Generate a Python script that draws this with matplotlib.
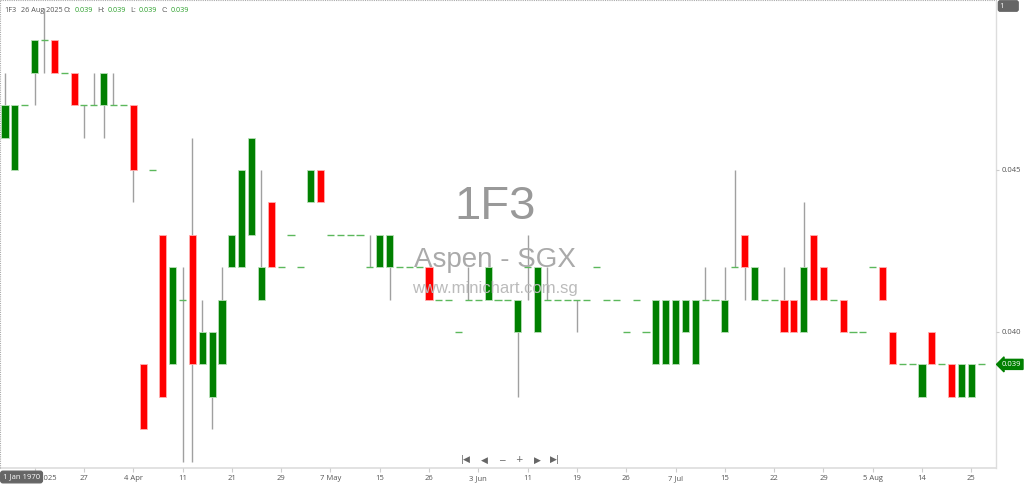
import matplotlib
matplotlib.use("Agg")
import matplotlib.pyplot as plt

# daily OHLC for 1F3 (Aspen, SGX), one entry per trading bar
opens = [0.046, 0.045, 0.047, 0.048, 0.049, 0.049, 0.048, 0.048, 0.047, 0.047,
         0.047, 0.047, 0.047, 0.047, 0.039, 0.045, 0.043, 0.039, 0.041, 0.043,
         0.039, 0.038, 0.039, 0.042, 0.042, 0.043, 0.041, 0.044, 0.042, 0.043,
         0.042, 0.044, 0.045, 0.043, 0.043, 0.043, 0.043, 0.042, 0.042, 0.042,
         0.042, 0.042, 0.042, 0.042, 0.041, 0.041, 0.040, 0.041, 0.041, 0.041,
         0.041, 0.041, 0.040, 0.042, 0.040, 0.041, 0.041, 0.041, 0.041, 0.041,
         0.042, 0.041, 0.041, 0.040, 0.041, 0.040, 0.039, 0.039, 0.039, 0.040,
         0.039, 0.041, 0.041, 0.040, 0.042, 0.043, 0.041, 0.041, 0.041, 0.041,
         0.041, 0.040, 0.043, 0.042, 0.041, 0.041, 0.040, 0.040, 0.042, 0.042,
         0.040, 0.039, 0.039, 0.038, 0.040, 0.039, 0.039, 0.038, 0.038, 0.039]
highs = [0.048, 0.047, 0.047, 0.049, 0.050, 0.049, 0.048, 0.048, 0.047, 0.048,
         0.048, 0.048, 0.047, 0.047, 0.039, 0.045, 0.043, 0.042, 0.042, 0.046,
         0.041, 0.040, 0.042, 0.043, 0.045, 0.046, 0.045, 0.044, 0.042, 0.043,
         0.042, 0.045, 0.045, 0.043, 0.043, 0.043, 0.043, 0.043, 0.043, 0.043,
         0.042, 0.042, 0.042, 0.042, 0.041, 0.041, 0.040, 0.042, 0.041, 0.042,
         0.041, 0.041, 0.041, 0.043, 0.042, 0.042, 0.041, 0.041, 0.041, 0.041,
         0.042, 0.041, 0.041, 0.040, 0.041, 0.040, 0.041, 0.041, 0.041, 0.041,
         0.041, 0.042, 0.041, 0.042, 0.045, 0.043, 0.042, 0.041, 0.041, 0.042,
         0.041, 0.044, 0.043, 0.042, 0.041, 0.041, 0.040, 0.040, 0.042, 0.042,
         0.040, 0.039, 0.039, 0.039, 0.040, 0.039, 0.039, 0.039, 0.039, 0.039]
lows = [0.046, 0.045, 0.047, 0.047, 0.048, 0.048, 0.048, 0.047, 0.046, 0.047,
        0.046, 0.047, 0.047, 0.044, 0.037, 0.045, 0.038, 0.039, 0.036, 0.036,
        0.039, 0.037, 0.039, 0.042, 0.042, 0.043, 0.041, 0.042, 0.042, 0.043,
        0.042, 0.044, 0.044, 0.043, 0.043, 0.043, 0.043, 0.042, 0.042, 0.041,
        0.042, 0.042, 0.042, 0.041, 0.041, 0.041, 0.040, 0.041, 0.041, 0.041,
        0.041, 0.041, 0.038, 0.041, 0.040, 0.041, 0.041, 0.041, 0.040, 0.041,
        0.042, 0.041, 0.041, 0.040, 0.041, 0.040, 0.039, 0.039, 0.039, 0.040,
        0.039, 0.041, 0.041, 0.040, 0.042, 0.041, 0.041, 0.041, 0.041, 0.040,
        0.040, 0.040, 0.041, 0.041, 0.041, 0.040, 0.040, 0.040, 0.042, 0.041,
        0.039, 0.039, 0.039, 0.038, 0.039, 0.039, 0.038, 0.038, 0.038, 0.039]
closes = [0.047, 0.047, 0.047, 0.049, 0.049, 0.048, 0.048, 0.047, 0.047, 0.047,
          0.048, 0.047, 0.047, 0.045, 0.037, 0.045, 0.038, 0.042, 0.041, 0.039,
          0.040, 0.040, 0.041, 0.043, 0.045, 0.046, 0.042, 0.042, 0.042, 0.043,
          0.042, 0.045, 0.044, 0.043, 0.043, 0.043, 0.043, 0.042, 0.043, 0.043,
          0.042, 0.042, 0.042, 0.041, 0.041, 0.041, 0.040, 0.041, 0.041, 0.042,
          0.041, 0.041, 0.041, 0.042, 0.042, 0.041, 0.041, 0.041, 0.041, 0.041,
          0.042, 0.041, 0.041, 0.040, 0.041, 0.040, 0.041, 0.041, 0.041, 0.041,
          0.041, 0.041, 0.041, 0.041, 0.042, 0.042, 0.042, 0.041, 0.041, 0.040,
          0.040, 0.042, 0.041, 0.041, 0.041, 0.040, 0.040, 0.040, 0.042, 0.041,
          0.039, 0.039, 0.039, 0.039, 0.039, 0.039, 0.038, 0.039, 0.039, 0.039]

tick_pos = [3, 8, 13, 18, 23, 28, 33, 38, 43, 48, 53, 58, 63, 68, 73, 78, 83, 88, 93, 98]
tick_labels = ["21 Mar 2025", "27", "4 Apr", "11", "21", "29", "7 May", "15", "26",
               "3 Jun", "11", "19", "26", "7 Jul", "15", "22", "29", "5 Aug", "14", "25"]
price_ticks = [0.040, 0.045]
last_price = 0.039

GREEN = "#008000"
RED = "#ff0000"
DOJI = "#5cb85c"
WICK = "#a0a0a0"
TXT = "#555555"

plt.rcParams["font.family"] = ["Open Sans", "DejaVu Sans"]

fig = plt.figure(figsize=(10.24, 4.84), dpi=100)
ax = fig.add_axes([0, 16 / 484, 996 / 1024, 468 / 484])

w = 0.72
for i in range(len(opens)):
    o, h, l, c = opens[i], highs[i], lows[i], closes[i]
    if h > l:
        ax.vlines(i, l, h, color=WICK, lw=1, zorder=1)
    if o == c:
        ax.hlines(o, i - w / 2, i + w / 2, color=DOJI, lw=1, zorder=2)
    else:
        col = GREEN if c > o else RED
        edge = "#b8e0b8" if c > o else "#ffb0b0"
        ax.bar(i, abs(c - o), bottom=min(o, c), width=w, color=col,
               edgecolor=edge, linewidth=0.6, zorder=3)

ax.set_xlim(-0.51, 100.5)
ax.set_ylim(0.035802, 0.050247)

# axes styling
for s in ["top", "left", "right", "bottom"]:
    ax.spines[s].set_visible(False)
ax.axhline(0.035802, color="#dddddd", lw=1.2, clip_on=False, zorder=0)
ax.axvline(100.5, color="#dddddd", lw=1, clip_on=False, zorder=0)
ax.plot([0, 1], [1, 1], transform=ax.transAxes, color="#aaaaaa", lw=0.8,
        ls=(0, (1, 1)), clip_on=False)
ax.plot([0, 0], [0, 1], transform=ax.transAxes, color="#aaaaaa", lw=0.8,
        ls=(0, (1, 1)), clip_on=False)

ax.set_xticks(tick_pos)
ax.set_xticklabels(tick_labels, fontsize=5.5, color=TXT)
ax.tick_params(axis="x", length=3, color="#cccccc", pad=2)

ax.yaxis.tick_right()
ax.set_yticks(price_ticks)
ax.set_yticklabels(["%.3f" % p for p in price_ticks], fontsize=5.5, color=TXT)
ax.tick_params(axis="y", length=2, color="#cccccc", pad=2)

# watermark
ax.text(0.497, 0.557, "1F3", transform=ax.transAxes, ha="center", va="center",
        fontsize=34, color="#999999", family="Liberation Sans")
ax.text(0.497, 0.445, "Aspen - SGX", transform=ax.transAxes, ha="center", va="center",
        fontsize=20, color="#aaaaaa", family="Liberation Sans")
ax.text(0.497, 0.383, "www.minichart.com.sg", transform=ax.transAxes, ha="center",
        va="center", fontsize=12, color="#bbbbbb", family="Liberation Sans")

# header OHLC readout
parts = [("1F3", 4, TXT), ("26 Aug 2025", 21, TXT), ("O:", 64, TXT), ("0.039", 75, "#2ca02c"),
         ("H:", 97, TXT), ("0.039", 108, "#2ca02c"), ("L:", 130, TXT), ("0.039", 139, "#2ca02c"),
         ("C:", 161, TXT), ("0.039", 171, "#2ca02c")]
for t, px, col in parts:
    fig.text(px / 1024, 1 - 10 / 484, t, fontsize=5.2, color=col, va="center")

# right-side tags
fig.text(1000 / 1024, 1 - 6 / 484, "1      ", fontsize=5.5, color="white", va="center",
         bbox=dict(boxstyle="round,pad=0.25", fc="#666666", ec="#555555", lw=0.5))
ax.annotate("%.3f" % last_price, xy=(1.006, last_price), xycoords=("axes fraction", "data"),
            fontsize=5.5, color="white", va="center", ha="left",
            bbox=dict(boxstyle="larrow,pad=0.2", fc=GREEN, ec=GREEN))

# bottom-left date tag
fig.text(3 / 1024, 7 / 484, "1 Jan 1970", fontsize=5.5, color="white", va="center",
         bbox=dict(boxstyle="round,pad=0.3", fc="#666666", ec="#666666"))

# navigation controls
nav_y = 1 - 460 / 484
for t, px in [("|◀", 466), ("◀", 484), ("−", 502), ("+", 519), ("▶", 537), ("▶|", 555)]:
    fig.text(px / 1024, nav_y, t, fontsize=6.5, color="#666666", ha="center", va="center",
             family="DejaVu Sans")

fig.savefig("out.png", dpi=100)
